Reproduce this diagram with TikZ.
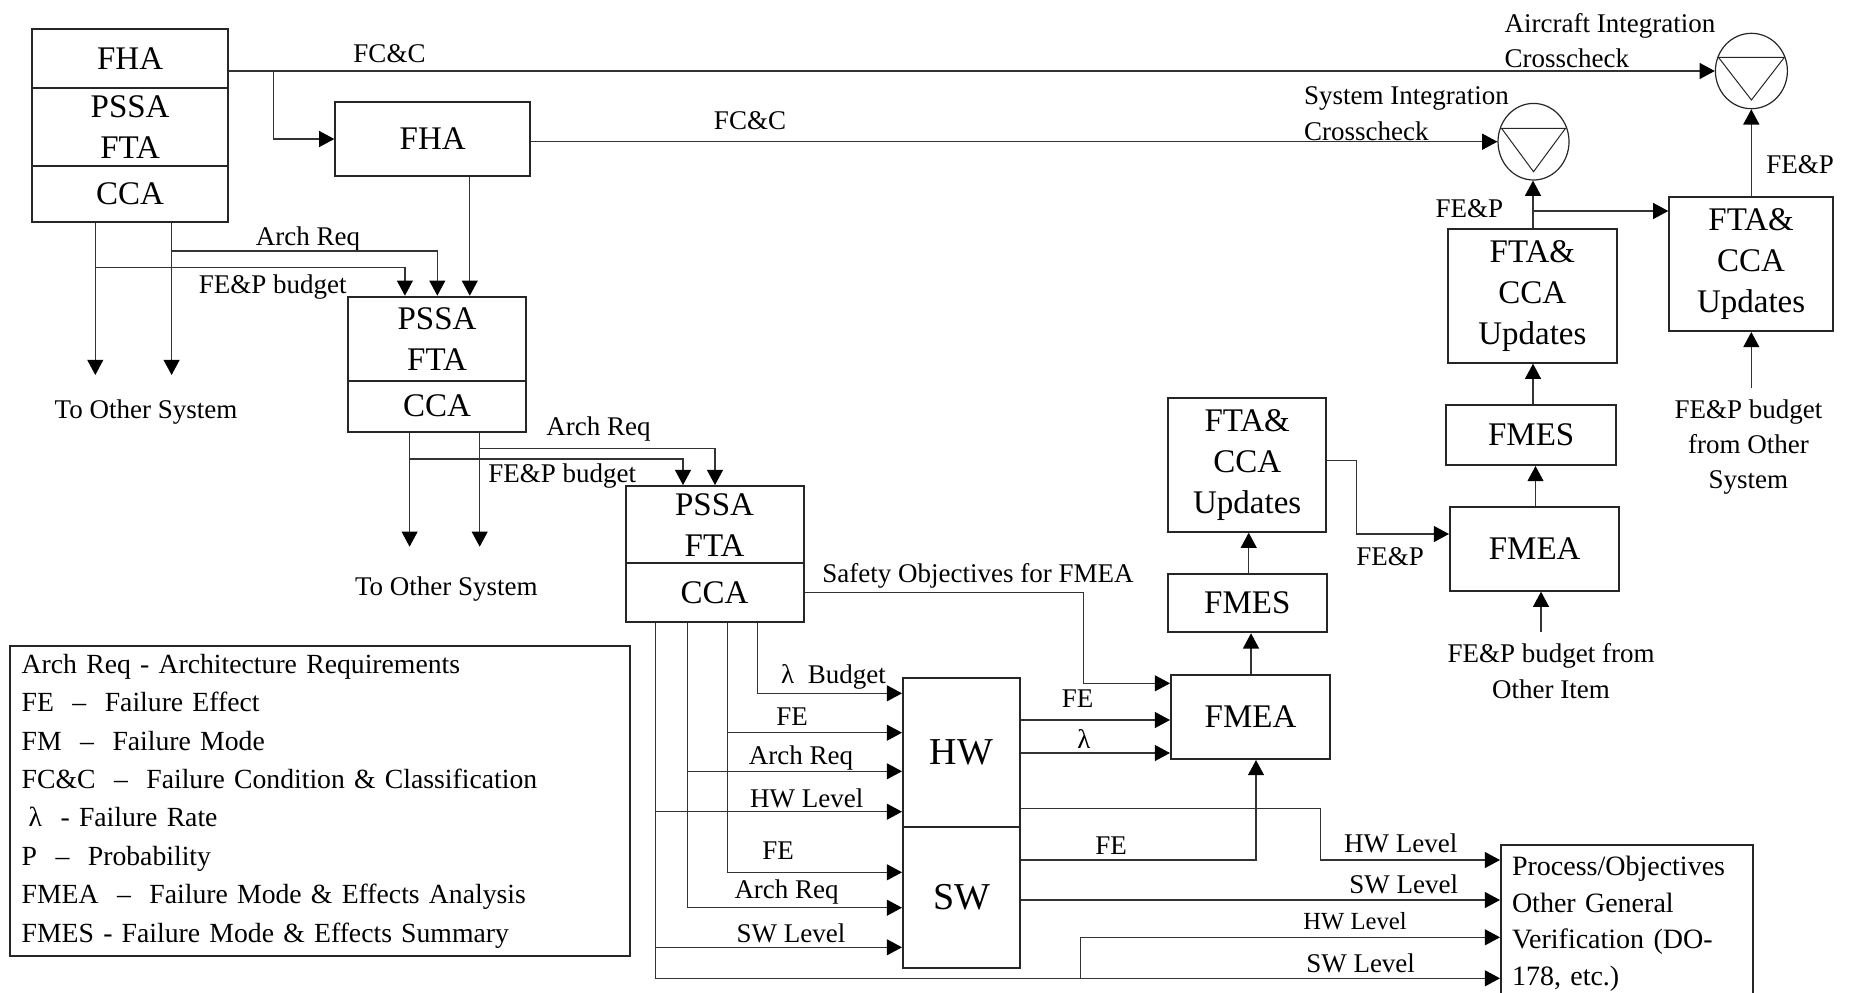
\documentclass[tikz,border=0pt]{standalone}
\usepackage{fontspec}
\setmainfont{Liberation Serif}
\usetikzlibrary{arrows.meta,shapes.geometric,calc}
\begin{document}
\begin{tikzpicture}[x=0.5pt,y=-0.5pt,
  box/.style={draw=black!85,line width=1pt,inner sep=0pt,align=center,font=\fontsize{16.5}{20.5}\selectfont},
  bigbox/.style={box,font=\fontsize{19}{22}\selectfont},
  lbl/.style={inner sep=0pt,text height=8.9pt,text depth=0pt,font=\fontsize{13.5}{17}\selectfont},
  smlbl/.style={lbl,text height=8.1pt,font=\fontsize{12.3}{15}\selectfont},
  mlbl/.style={inner sep=0pt,font=\fontsize{13.5}{18}\selectfont},
  con/.style={draw=black!80,line width=0.6pt},
  arr/.style={con,-{Triangle[length=7.6pt,width=8pt,color=black]}},
  xcheck/.style={ellipse,draw=black!85,line width=0.6pt,inner sep=0pt},
  tri/.style={draw=black!85,line width=0.5pt}
]
\useasboundingbox (0,0) rectangle (1852,992);
\clip (0,0) rectangle (1852,992);

% ---------- boxes ----------
\node[box,minimum width=97.7pt,minimum height=29.35pt] (b1a) at (130.1,58.35) {FHA};
\node[box,minimum width=97.7pt,minimum height=39pt] (b1b) at (130.1,126.7) {PSSA\\FTA};
\node[box,minimum width=97.7pt,minimum height=28pt] (b1c) at (130.1,193.7) {CCA};

\node[box,minimum width=97.45pt,minimum height=36.7pt] (fha2) at (432.75,139) {FHA};

\node[box,minimum width=89pt,minimum height=42pt] (p2t) at (437,338.7) {PSSA\\FTA};
\node[box,minimum width=89pt,minimum height=25.5pt] (p2b) at (437,406.2) {CCA};

\node[box,minimum width=89pt,minimum height=38.65pt] (p3t) at (714.5,524.7) {PSSA\\FTA};
\node[box,minimum width=89pt,minimum height=29.2pt] (p3b) at (714.5,592.5) {CCA};

\node[bigbox,minimum width=58.6pt,minimum height=74.5pt] (hw) at (961.6,752.2) {HW};
\node[bigbox,minimum width=58.6pt,minimum height=70.5pt] (sw) at (961.6,897.2) {SW};

\node[box,minimum width=79.5pt,minimum height=42pt] (fmea1) at (1250.5,717) {FMEA};
\node[box,minimum width=79.25pt,minimum height=29.4pt] (fmes1) at (1247.25,602.9) {FMES};
\node[box,minimum width=79.2pt,minimum height=66.7pt] (upd1) at (1247.2,465) {FTA\&\\CCA\\Updates};

\node[box,minimum width=84.7pt,minimum height=42pt] (fmea2) at (1534.7,548.7) {FMEA};
\node[box,minimum width=84.85pt,minimum height=30pt] (fmes2) at (1531.15,435) {FMES};
\node[box,minimum width=84.65pt,minimum height=66.7pt] (upd2) at (1532.35,296) {FTA\&\\CCA\\Updates};

\node[box,minimum width=81.8pt,minimum height=66.85pt] (upd3) at (1751.1,264.15) {FTA\&\\CCA\\Updates};

\node[xcheck,minimum width=35.5pt,minimum height=38.3pt] (si) at (1533.5,141.7) {};
\draw[tri] ($(si)+(-32,-13.4)$) -- ($(si)+(32,-13.4)$) -- ($(si)+(0,30)$) -- cycle;
\node[xcheck,minimum width=36pt,minimum height=37.7pt] (ac) at (1751.4,71) {};
\draw[tri] ($(ac)+(-33,-13.7)$) -- ($(ac)+(33,-13.7)$) -- ($(ac)+(0,29)$) -- cycle;

\node[draw=black!85,line width=1pt,anchor=north west,text width=115pt,align=left,
  inner xsep=5.5pt,inner ysep=5.5pt,font=\fontsize{14}{18.35}\selectfont] (proc) at (1500,844)
  {Process/Objectives\\Other General\\Verification (DO-\\178, etc.)};

\node[draw=black!85,line width=1pt,anchor=north west,text width=298.5pt,minimum height=155pt,
  align=left,inner xsep=5.8pt,inner ysep=0pt,font=\fontsize{13.85}{19.2}\selectfont] (legend) at (9.1,645)
  {Arch Req - Architecture Requirements\\
   FE~~–~~Failure Effect\\
   FM~~–~~Failure Mode\\
   FC\&C~~–~~Failure Condition \& Classification\\
   \hspace*{3.5pt}λ~~- Failure Rate\\
   P~~–~~Probability\\
   FMEA~~–~~Failure Mode \& Effects Analysis\\
   FMES - Failure Mode \& Effects Summary};

% ---------- labels ----------
\node[lbl] (l1) at (389.5,53.3) {FC\&C};
\node[lbl] (l2) at (750,120.5) {FC\&C};
\node[lbl] (l3) at (308,236.7) {Arch Req};
\node[lbl] (l4) at (272.8,285) {FE\&P budget};
\node[lbl] (tos1) at (146,410) {To Other System};
\node[lbl] (l5) at (598.5,426.7) {Arch Req};
\node[lbl] (l6) at (562.3,473.3) {FE\&P budget};
\node[lbl] (tos2) at (446.4,586.7) {To Other System};
\node[lbl] (l7) at (978,573.3) {Safety Objectives for FMEA};
\node[lbl] (l8) at (833.5,675) {λ~~Budget};
\node[lbl] (l9) at (792,716.7) {FE};
\node[lbl] (l10) at (801,756) {Arch Req};
\node[lbl] (l11) at (806.7,799) {HW Level};
\node[lbl] (l12) at (778,850.7) {FE};
\node[lbl] (l13) at (786.6,890) {Arch Req};
\node[lbl] (l14) at (791,933.3) {SW Level};
\node[lbl] (l15) at (1077.6,698.3) {FE};
\node[lbl] (l16) at (1084,740) {λ};
\node[lbl] (l17) at (1111,846) {FE};
\node[lbl] (l18) at (1400.8,843.3) {HW Level};
\node[lbl] (l19) at (1403.7,885) {SW Level};
\node[smlbl] (l20) at (1355,921.7) {HW Level};
\node[lbl] (l21) at (1360.6,963.3) {SW Level};
\node[lbl] (l22) at (1390,556.7) {FE\&P};
\node[lbl] (l23) at (1469.3,208.3) {FE\&P};
\node[lbl] (l24) at (1800.2,165) {FE\&P};
\node[mlbl,align=center,anchor=north] (oi) at (1551,642.8) {FE\&P budget from\\Other Item};
\node[mlbl,align=center,anchor=north,font=\fontsize{13.5}{17.5}\selectfont] (os) at (1748.4,399.4) {FE\&P budget\\from Other\\System};
\node[mlbl,align=left,anchor=north west,font=\fontsize{13.5}{17.85}\selectfont] (sil) at (1303.8,86.1) {System Integration\\Crosscheck};
\node[mlbl,align=left,anchor=north west,font=\fontsize{13.5}{17.5}\selectfont] (acl) at (1504.3,12.8) {Aircraft Integration\\Crosscheck};

% ---------- connectors ----------
% top level
\draw[arr] (ac.west -| b1a.east) -- (ac.west);
\coordinate (j1) at (273.2,71);
\draw[arr] (j1) |- (fha2.west);
\draw[arr] (si.west -| fha2.east) -- (si.west);
\coordinate (x4) at (469.8,0);
\draw[arr] (x4 |- fha2.south) -- (x4 |- p2t.north);

\coordinate (t5a) at (95.3,375);
\coordinate (t5b) at (171.6,375);
\draw[arr] (t5a |- b1c.south) -- (t5a);
\draw[arr] (t5b |- b1c.south) -- (t5b);
\coordinate (a6) at (171.6,251);
\coordinate (x6) at (437.3,0);
\draw[arr] (a6) -| (x6 |- p2t.north);
\coordinate (a7) at (95.3,267.7);
\coordinate (x7) at (404.9,0);
\draw[arr] (a7) -| (x7 |- p2t.north);

% second level
\coordinate (t8a) at (409.6,546.7);
\coordinate (t8b) at (479.7,546.7);
\draw[arr] (t8a |- p2b.south) -- (t8a);
\draw[arr] (t8b |- p2b.south) -- (t8b);
\coordinate (a9) at (479.7,448.3);
\coordinate (x9) at (715,0);
\draw[arr] (a9) -| (x9 |- p3t.north);
\coordinate (a10) at (409.6,459);
\coordinate (x10) at (683,0);
\draw[arr] (a10) -| (x10 |- p3t.north);

% safety objectives
\coordinate (k11) at (1083.6,683.3);
\draw[arr] (p3b.east) -| (k11) -- (k11 -| fmea1.west);

% PSSA3 to HW / SW
\coordinate (ka) at (757.3,693.3);
\draw[arr] (ka |- p3b.south) -- (ka) -- (ka -| hw.west);
\coordinate (kb1) at (727.4,732.7);
\coordinate (kb2) at (727.4,872.3);
\draw[arr] (kb1 |- p3b.south) -- (kb2) -- (kb2 -| sw.west);
\draw[arr] (kb1) -- (kb1 -| hw.west);
\coordinate (kc1) at (687.8,771.3);
\coordinate (kc2) at (687.8,907.7);
\draw[arr] (kc1 |- p3b.south) -- (kc2) -- (kc2 -| sw.west);
\draw[arr] (kc1) -- (kc1 -| hw.west);
\coordinate (kd1) at (655.7,811.7);
\coordinate (kd2) at (655.7,947.3);
\coordinate (kd3) at (655.7,978.3);
\draw[arr] (kd1 |- p3b.south) -- (kd3) -- (kd3 -| proc.west);
\draw[arr] (kd1) -- (kd1 -| hw.west);
\draw[arr] (kd2) -- (kd2 -| sw.west);

% HW / SW outputs
\coordinate (k13a) at (0,720);
\coordinate (k13b) at (0,753);
\draw[arr] (k13a -| hw.east) -- (k13a -| fmea1.west);
\draw[arr] (k13b -| hw.east) -- (k13b -| fmea1.west);
\coordinate (k14a) at (1320.4,808.3);
\coordinate (k14b) at (1320.4,860);
\draw[arr] (k14a -| hw.east) -- (k14a) -- (k14b) -- (k14b -| proc.west);
\coordinate (k15) at (1256,860);
\draw[arr] (k15 -| sw.east) -- (k15) -- (k15 |- fmea1.south);
\coordinate (k16) at (0,900);
\draw[arr] (k16 -| sw.east) -- (k16 -| proc.west);
\coordinate (k17a) at (1080.5,978.3);
\coordinate (k17b) at (1080.5,937.3);
\draw[arr] (k17a) -- (k17b) -- (k17b -| proc.west);

% upward chains
\coordinate (k18) at (1251,0);
\draw[arr] (k18 |- fmea1.north) -- (k18 |- fmes1.south);
\coordinate (k19) at (1248.7,0);
\draw[arr] (k19 |- fmes1.north) -- (k19 |- upd1.south);
\coordinate (k20a) at (1356.6,460.7);
\coordinate (k20b) at (1356.6,534);
\draw[arr] (k20a -| upd1.east) -- (k20a) -- (k20b) -- (k20b -| fmea2.west);
\coordinate (k21) at (1541,631.7);
\draw[arr] (k21) -- (k21 |- fmea2.south);
\coordinate (k22) at (1535.5,0);
\draw[arr] (k22 |- fmea2.north) -- (k22 |- fmes2.south);
\coordinate (k23) at (1533,0);
\draw[arr] (k23 |- fmes2.north) -- (k23 |- upd2.south);
\draw[arr] (k23 |- upd2.north) -- (k23 |- si.south);
\coordinate (k25) at (1533,211);
\draw[arr] (k25) -- (k25 -| upd3.west);
\coordinate (k26) at (1751.3,0);
\draw[arr] (k26 |- upd3.north) -- (k26 |- ac.south);
\coordinate (k27) at (1751.3,388.3);
\draw[arr] (k27) -- (k27 |- upd3.south);
\end{tikzpicture}
\end{document}
